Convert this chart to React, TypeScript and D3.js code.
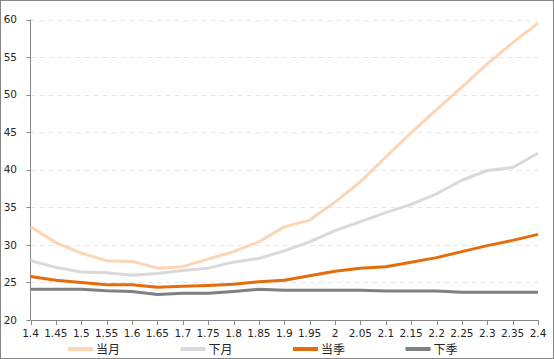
import React from "react";
import * as d3 from "d3";

// category axis: strike / moneyness buckets
const categories = ["1.4", "1.45", "1.5", "1.55", "1.6", "1.65", "1.7", "1.75", "1.8", "1.85", "1.9", "1.95", "2", "2.05", "2.1", "2.15", "2.2", "2.25", "2.3", "2.35", "2.4"];

const dangYue = [32.4, 30.3, 28.9, 27.9, 27.8, 26.9, 27.1, 28.1, 29.1, 30.4, 32.4, 33.3, 35.7, 38.4, 41.7, 44.9, 48.0, 51.0, 54.1, 56.9, 59.5];
const xiaYue = [27.9, 27.0, 26.4, 26.3, 25.95, 26.2, 26.6, 26.9, 27.7, 28.2, 29.2, 30.4, 31.9, 33.1, 34.3, 35.4, 36.8, 38.6, 39.9, 40.3, 42.2];
const dangJi = [25.8, 25.3, 25.0, 24.7, 24.7, 24.35, 24.5, 24.6, 24.75, 25.1, 25.3, 25.9, 26.5, 26.9, 27.1, 27.7, 28.3, 29.1, 29.9, 30.6, 31.4];
const xiaJi = [24.1, 24.1, 24.1, 23.9, 23.8, 23.4, 23.55, 23.55, 23.8, 24.1, 23.95, 23.95, 23.95, 23.95, 23.85, 23.85, 23.85, 23.7, 23.7, 23.7, 23.7];

const yTicks = [20, 25, 30, 35, 40, 45, 50, 55, 60];

const series = [
  { name: "当月", values: dangYue, color: "#FCD5B4" },
  { name: "下月", values: xiaYue, color: "#D9D9D9" },
  { name: "当季", values: dangJi, color: "#E46C0A" },
  { name: "下季", values: xiaJi, color: "#808080" },
];

const W = 554, H = 359;
const left = 30.5, right = 538, top = 19.5, bottom = 320;
const font = "'DejaVu Sans', Verdana, sans-serif";

export default function App() {
  const x = d3.scalePoint<string>().domain(categories).range([left, right]);
  const y = d3.scaleLinear().domain([20, 60]).range([bottom, top]);
  const line = d3.line<number>()
    .x((d, i) => x(categories[i]) as number)
    .y(d => y(d));

  return (
    <svg width={W} height={H} style={{ position: "absolute", left: 0, top: 0, background: "#fff" }}>
      <rect x={0.5} y={0.5} width={W - 1} height={H - 1} fill="#fff" stroke="#868686" />
      {/* grid */}
      {yTicks.filter(t => t > 20).map(t => (
        <line key={"g" + t} x1={left} x2={right} y1={Math.round(y(t)) + 0.5} y2={Math.round(y(t)) + 0.5}
          stroke="#E6E6E6" strokeDasharray="5,4" />
      ))}
      {/* y axis */}
      <line x1={left} x2={left} y1={top} y2={bottom} stroke="#868686" />
      {yTicks.map(t => (
        <g key={"y" + t}>
          <line x1={left - 4} x2={left} y1={Math.round(y(t)) + 0.5} y2={Math.round(y(t)) + 0.5} stroke="#868686" />
          <text x={17} y={y(t)} dy="0.35em" textAnchor="end" fontFamily={font} fontSize={10.5} fill="#262626">{t}</text>
        </g>
      ))}
      {/* x axis */}
      <line x1={left} x2={right} y1={bottom + 0.5} y2={bottom + 0.5} stroke="#868686" />
      {categories.map(c => (
        <g key={"x" + c}>
          <line x1={Math.round(x(c) as number) + 0.5} x2={Math.round(x(c) as number) + 0.5} y1={bottom} y2={bottom + 5} stroke="#868686" />
          <text x={x(c)} y={337} textAnchor="middle" fontFamily={font} fontSize={10.5} fill="#262626">{c}</text>
        </g>
      ))}
      {/* lines */}
      {series.map(s => (
        <path key={s.name} d={line(s.values) || ""} fill="none" stroke={s.color} strokeWidth={3} strokeLinejoin="round" />
      ))}
      {/* legend */}
      {series.map((s, i) => {
        const lx = 68 + i * 112.5;
        return (
          <g key={"l" + s.name}>
            <line x1={lx} x2={lx + 25} y1={349} y2={349} stroke={s.color} strokeWidth={4} />
            <text x={lx + 28} y={349} dy="0.38em" fontFamily="'Noto Sans CJK SC', sans-serif" fontSize={12} fill="#262626">{s.name}</text>
          </g>
        );
      })}
    </svg>
  );
}
